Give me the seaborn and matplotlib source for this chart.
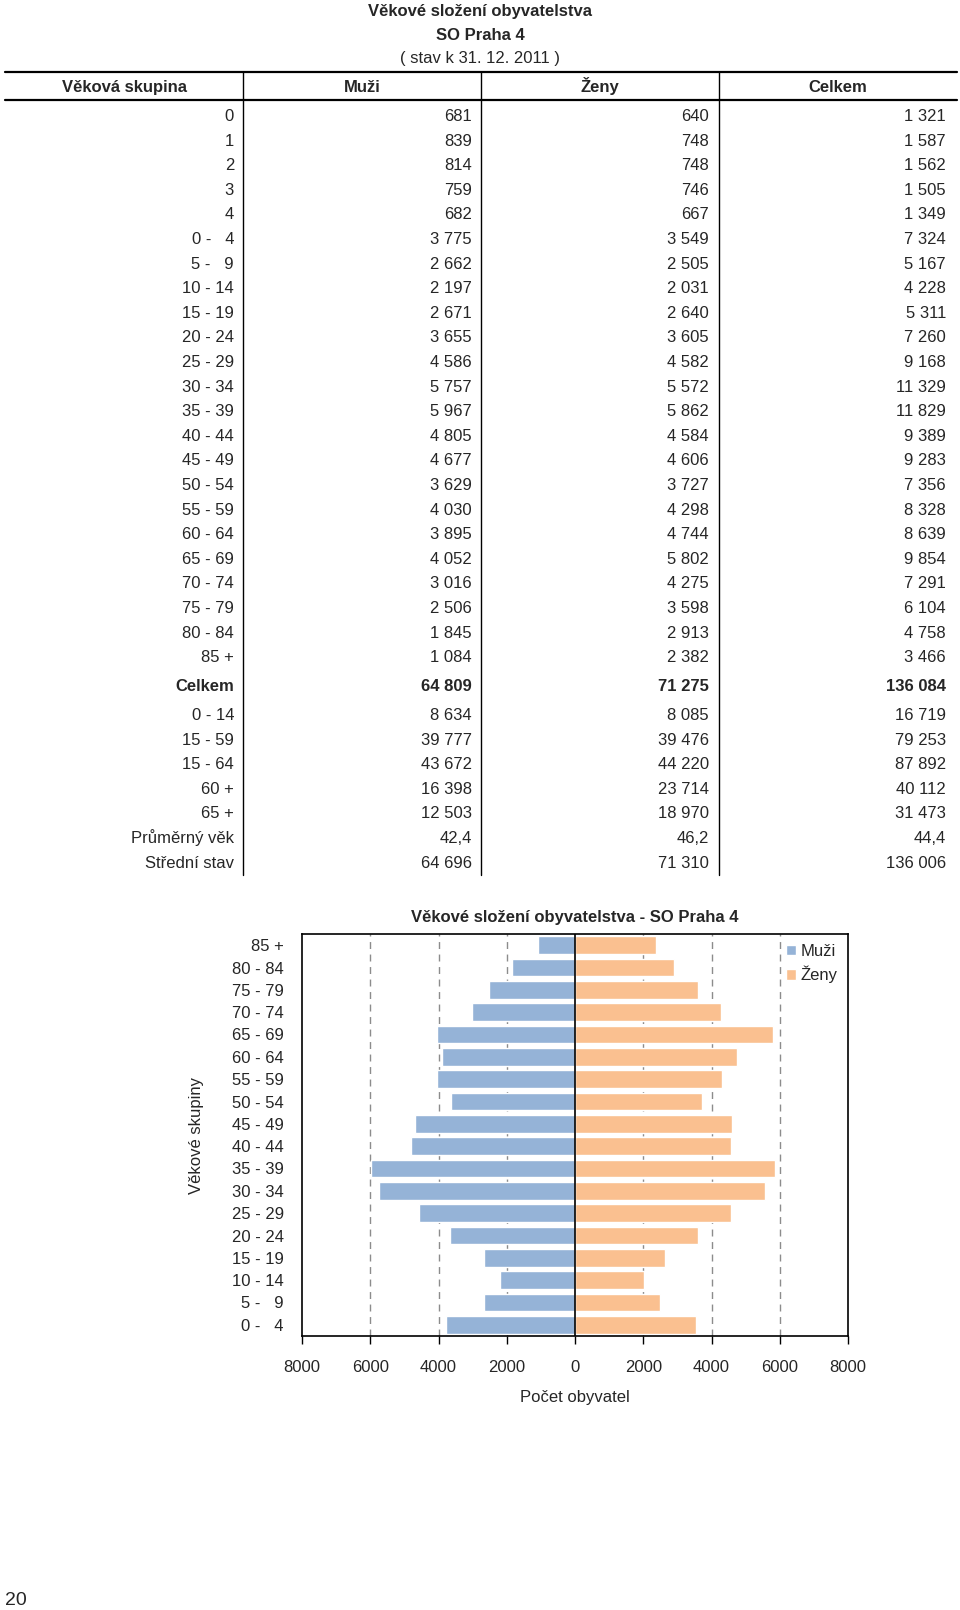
import matplotlib
matplotlib.use('Agg')

import matplotlib.pyplot as plt
from matplotlib.ticker import FuncFormatter, MultipleLocator
import seaborn as sns
import pandas as pd

# --- data -------------------------------------------------------------
vek_tab = ["0", "1", "2", "3", "4", "0 -   4", "5 -   9", "10 - 14", "15 - 19",
           "20 - 24", "25 - 29", "30 - 34", "35 - 39", "40 - 44", "45 - 49",
           "50 - 54", "55 - 59", "60 - 64", "65 - 69", "70 - 74", "75 - 79",
           "80 - 84", "85 +"]
muzi_tab = [681, 839, 814, 759, 682, 3775, 2662, 2197, 2671, 3655, 4586, 5757,
            5967, 4805, 4677, 3629, 4030, 3895, 4052, 3016, 2506, 1845, 1084]
zeny_tab = [640, 748, 748, 746, 667, 3549, 2505, 2031, 2640, 3605, 4582, 5572,
            5862, 4584, 4606, 3727, 4298, 4744, 5802, 4275, 3598, 2913, 2382]
celkem_tab = [1321, 1587, 1562, 1505, 1349, 7324, 5167, 4228, 5311, 7260, 9168,
              11329, 11829, 9389, 9283, 7356, 8328, 8639, 9854, 7291, 6104,
              4758, 3466]

souhrn = ["64 809", "71 275", "136 084"]

vek_dalsi = ["0 - 14", "15 - 59", "15 - 64", "60 +", "65 +", "Průměrný věk",
             "Střední stav"]
muzi_dalsi = ["8 634", "39 777", "43 672", "16 398", "12 503", "42,4", "64 696"]
zeny_dalsi = ["8 085", "39 476", "44 220", "23 714", "18 970", "46,2", "71 310"]
celkem_dalsi = ["16 719", "79 253", "87 892", "40 112", "31 473", "44,4",
                "136 006"]

# chart: 5-year groups, top to bottom
skupiny = vek_tab[5:][::-1]
muzi_graf = muzi_tab[5:][::-1]
zeny_graf = zeny_tab[5:][::-1]

modra = "#95B3D7"
oranzova = "#FAC090"


def fmt(n):
    return f"{n:,}".replace(",", " ")


sns.set_style("white")
plt.rcParams['font.family'] = ['Liberation Sans', 'DejaVu Sans']

fig = plt.figure(figsize=(9.6, 16.1), dpi=100)

# --- table (pixel coordinates) ----------------------------------------
tab = fig.add_axes([0, 0, 1, 1])
tab.set_xlim(0, 960)
tab.set_ylim(1610, 0)
tab.axis('off')

fs = 12
va = 'baseline'
b = 6  # centre of digits -> baseline offset in px


def txt(x, y, s, ha='right', **kw):
    tab.text(x, y + b, s, ha=ha, va=va, fontsize=fs, **kw)


txt(480, 10, "Věkové složení obyvatelstva", ha='center', weight='bold')
txt(480, 34, "SO Praha 4", ha='center', weight='bold')
txt(480, 57, "( stav k 31. 12. 2011 )", ha='center')

tab.plot([5, 957], [72, 72], color='black', lw=1.6)
tab.plot([5, 957], [100, 100], color='black', lw=1.6)
for xv in [243, 481, 719]:
    tab.plot([xv, xv], [72, 875], color='black', lw=1)

for xc, h in zip([124, 362, 600, 838], ["Věková skupina", "Muži", "Ženy", "Celkem"]):
    txt(xc, 86, h, ha='center', weight='bold')

col_x = [234, 472, 709, 946]
for i in range(len(vek_tab)):
    y = 115 + 24.6 * i
    vals = [vek_tab[i], fmt(muzi_tab[i]), fmt(zeny_tab[i]), fmt(celkem_tab[i])]
    for xv, v in zip(col_x, vals):
        txt(xv, y, v)

for xv, v in zip(col_x, ["Celkem"] + souhrn):
    txt(xv, 685, v, weight='bold')

for j in range(len(vek_dalsi)):
    y = 714 + 24.6 * j
    vals = [vek_dalsi[j], muzi_dalsi[j], zeny_dalsi[j], celkem_dalsi[j]]
    for xv, v in zip(col_x, vals):
        txt(xv, y, v)

tab.text(5, 1605, "20", ha='left', va='baseline', fontsize=14)

# --- pyramid chart ----------------------------------------------------
df = pd.DataFrame({
    "skupina": skupiny * 2,
    "pocet": [-m for m in muzi_graf] + zeny_graf,
    "pohlavi": ["Muži"] * len(skupiny) + ["Ženy"] * len(skupiny),
})

ax = fig.add_axes([302 / 960, 1 - 1336 / 1610, 546 / 960, 402 / 1610])
sns.barplot(data=df, x="pocet", y="skupina", hue="pohlavi", dodge=False,
            palette=[modra, oranzova], width=0.78, orient='h', ax=ax,
            saturation=1)

ax.set_xlim(-8000, 8000)
ax.xaxis.set_major_locator(MultipleLocator(2000))
ax.xaxis.set_major_formatter(FuncFormatter(lambda v, p: f"{abs(int(v))}"))
ax.set_axisbelow(True)
for gx in [-6000, -4000, -2000, 2000, 4000, 6000]:
    ax.axvline(gx, color='#8c8c8c', lw=1, linestyle=(0, (5, 4)), zorder=0)
ax.axvline(0, color='black', lw=1.2, zorder=3)

for s in ax.spines.values():
    s.set_visible(True)
    s.set_color('black')
    s.set_linewidth(1.2)

ax.tick_params(axis='x', bottom=True, direction='out', length=6, width=1,
               pad=11, labelsize=fs, color='black')
ax.tick_params(axis='y', left=False, length=0, pad=13, labelsize=fs)

ax.set_title("Věkové složení obyvatelstva - SO Praha 4", fontsize=fs,
             weight='bold', pad=9)
ax.set_xlabel("Počet obyvatel", fontsize=fs)
ax.set_ylabel("Věkové skupiny", fontsize=fs)
ax.xaxis.set_label_coords(0.5, -0.135)
ax.yaxis.set_label_coords(-0.18, 0.5)

ax.legend(loc='upper right', frameon=False, fontsize=fs, handlelength=0.6,
          handleheight=0.6, handletextpad=0.3, labelspacing=0.4,
          borderaxespad=0.2, title=None)

fig.savefig("out.png", dpi=100, facecolor='white')
